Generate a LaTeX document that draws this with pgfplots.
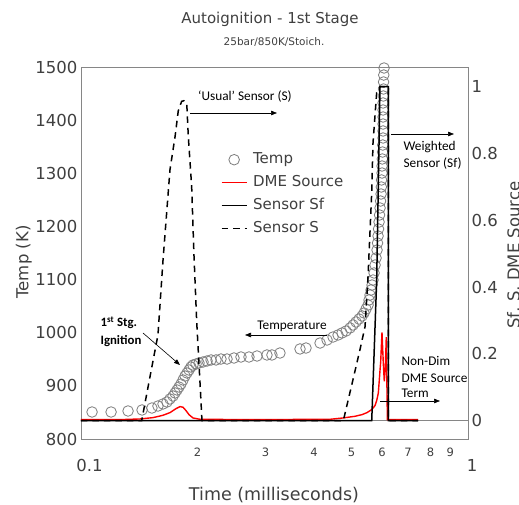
\documentclass[border=0pt]{standalone}
\usepackage{fontspec}
\setmainfont{DejaVu Sans}
\newfontfamily\calfont{Carlito}
\usepackage{pgfplots}
\usepackage{pgfplotstable}
\pgfplotsset{compat=1.18}
\usetikzlibrary{arrows.meta}
\definecolor{axgray}{RGB}{134,134,134}
\definecolor{txt}{RGB}{64,64,64}
\definecolor{circ}{RGB}{125,125,125}

% temperature (K) vs time
\pgfplotstableread{
t T
0.1068 850.8
0.1196 850.8
0.1323 852.7
0.1438 854.6
0.1525 858.3
0.1581 862.1
0.1629 865.9
0.1668 869.6
0.1698 875.3
0.1729 880.9
0.1750 886.6
0.1771 892.2
0.1792 897.8
0.1813 903.5
0.1835 911.0
0.1857 918.5
0.1879 924.2
0.1902 929.8
0.1924 935.5
0.1947 939.2
0.1983 941.1
0.2018 943.0
0.2067 944.9
0.2117 946.8
0.2168 948.7
0.2233 948.7
0.2300 950.5
0.2384 950.5
0.2485 952.4
0.2591 954.3
0.2717 954.3
0.2850 956.2
0.3024 958.1
0.3115 958.1
0.3267 961.8
0.3681 969.4
0.3815 971.2
0.4147 980.6
0.4323 986.3
0.4480 991.9
0.4616 995.7
0.4727 999.5
0.4841 1003.2
0.4957 1008.9
0.5046 1014.5
0.5137 1020.2
0.5230 1025.8
0.5324 1031.5
0.5388 1037.1
0.5452 1044.6
0.5518 1052.1
0.5551 1061.6
0.5584 1071.0
0.5617 1080.4
0.5651 1089.8
0.5684 1099.2
0.5718 1112.4
0.5753 1127.4
0.5787 1140.6
0.5821 1155.6
0.5838 1168.8
0.5856 1182.0
0.5873 1195.2
0.5891 1208.3
0.5909 1221.5
0.5926 1234.7
0.5944 1247.8
0.5962 1261.0
0.5972 1274.2
0.5979 1287.4
0.5997 1300.5
0.5997 1313.7
0.6008 1326.9
0.6015 1340.0
0.6022 1353.2
0.6033 1366.4
0.6033 1379.6
0.6033 1392.7
0.6033 1405.9
0.6033 1419.1
0.6033 1432.3
0.6044 1445.4
0.6051 1458.6
0.6051 1471.8
0.6058 1484.9
0.6069 1498.1
0.6069 1509.4
}\temptable

\begin{document}
\begin{tikzpicture}[x=1pt,y=1pt]
\fill[white] (0,0) rectangle (519,505);
\path[use as bounding box] (0,0) rectangle (519,505);

\begin{axis}[at={(81pt,66pt)},anchor=south west,scale only axis,
  width=387pt,height=372pt,
  xmode=log,xmin=0.1,xmax=1,ymin=800,ymax=1500,
  axis line style={axgray,line width=0.9pt},
  major tick length=0pt,minor tick length=0pt,
  xtick={0.1,1},xticklabels={\hspace*{17pt}0.1,\hspace*{8pt}1},
  xticklabel style={font=\fontsize{16.5}{18}\selectfont,text=txt,
    anchor=center,yshift=-26pt},
  extra x ticks={0.2,0.3,0.4,0.5,0.6,0.7,0.8,0.9},
  extra x tick labels={2,3,4,5,6,7,8,9},
  extra x tick style={xticklabel style={font=\fontsize{11.5}{13}\selectfont,
    yshift=13pt}},
  ytick={800,900,1000,1100,1200,1300,1400,1500},
  yticklabels={800,900,1000,1100,1200,1300,1400,1500},
  yticklabel style={font=\fontsize{16.5}{18}\selectfont,text=txt}]
\addplot[only marks,mark=o,mark size=5.3pt,circ,mark options={line width=0.8pt}]
  table[x=t,y=T]{\temptable};
\end{axis}

\begin{axis}[at={(81pt,66pt)},anchor=south west,scale only axis,
  width=387pt,height=372pt,
  xmode=log,xmin=0.1,xmax=1,ymin=-0.055,ymax=1.059,
  axis x line=none,axis y line*=right,
  axis line style={axgray,line width=0.9pt},
  major tick length=0pt,minor tick length=0pt,
  ytick={0,0.2,0.4,0.6,0.8,1},yticklabels={0,0.2,0.4,0.6,0.8,1},
  yticklabel style={font=\fontsize{16.5}{18}\selectfont,text=txt},
  legend image code/.code={\draw[mark repeat=2,mark phase=2,#1]
    plot coordinates {(0pt,0pt) (12.5pt,0pt) (25pt,0pt)};},
  legend cell align=left,
  legend style={draw=none,fill=none,at={(0.361,0.658)},anchor=west,
    font=\fontsize{15}{17}\selectfont,text=txt,inner sep=0pt,
    row sep=8.6pt,column sep=5.7pt,
    nodes={inner sep=0pt,text height=11.4pt,text depth=3pt}}]
\addlegendimage{only marks,mark=o,mark size=5.3pt,circ,mark options={line width=0.8pt}}
\addlegendentry{Temp}
\addplot[axgray,line width=0.8pt,forget plot] coordinates {(0.1,0) (1,0)};
\addplot[red,line width=1.4pt] coordinates {
  (0.1,0.003) (0.1261,0.003) (0.1421,0.005) (0.1535,0.009) (0.1629,0.016)
  (0.1698,0.024) (0.1760,0.036) (0.1803,0.042) (0.1836,0.040) (0.1868,0.030)
  (0.1901,0.018) (0.1947,0.008) (0.2030,0.004) (0.2733,0.003) (0.4399,0.004)
  (0.4753,0.008) (0.5105,0.013) (0.5322,0.018) (0.5483,0.024) (0.5639,0.033)
  (0.5751,0.045) (0.5809,0.060) (0.5866,0.083) (0.5924,0.150) (0.5948,0.175)
  (0.5995,0.264) (0.6041,0.174) (0.6077,0.118) (0.6113,0.153) (0.6150,0.250)
  (0.6190,0.003) (0.7428,0.003)};
\addlegendentry{DME Source}
\addplot[black,line width=1.5pt] coordinates {
  (0.1,0) (0.5640,0) (0.5809,0.422) (0.5924,1.0) (0.6225,1.0) (0.6225,0)
  (0.7428,0)};
\addlegendentry{Sensor Sf}
\addplot[black,line width=1.5pt,dash pattern=on 6.5pt off 5pt] coordinates {
  (0.1,0) (0.1435,0) (0.1508,0.132) (0.1581,0.257) (0.1629,0.480)
  (0.1698,0.751) (0.1750,0.850) (0.1784,0.928) (0.1820,0.956) (0.1845,0.958)
  (0.1876,0.952) (0.1894,0.850) (0.1932,0.701) (0.1959,0.494) (0.1991,0.296)
  (0.2030,0.114) (0.2054,0) (0.4763,0) (0.5045,0.123) (0.5260,0.213)
  (0.5419,0.281) (0.5516,0.430) (0.5639,0.683) (0.5683,0.832) (0.5808,0.982)
  (0.5924,1.0) (0.6225,1.0) (0.6225,0) (0.7428,0)};
\addlegendentry{Sensor S}
\end{axis}

% titles and axis labels
\node[anchor=base,font=\fontsize{15}{17}\selectfont,text=txt] at (270,481)
  {Autoignition - 1st Stage};
\node[anchor=base,font=\fontsize{10.5}{12}\selectfont,text=txt] at (274,459)
  {25bar/850K/Stoich.};
\node[anchor=base,font=\fontsize{17.5}{19}\selectfont,text=txt] at (274,4)
  {Time (milliseconds)};
\node[anchor=base,rotate=90,font=\fontsize{16.5}{18}\selectfont,text=txt]
  at (28.3,243) {Temp (K)};
\node[anchor=base,rotate=90,font=\fontsize{16.5}{18}\selectfont,text=txt]
  at (519.5,250) {Sf, S, DME Source};

% annotations
\begin{scope}[font=\calfont\fontsize{13.3}{15}\selectfont,
  every path/.style={line width=0.6pt,-{Triangle[length=6pt,width=4.5pt]}}]
\node at (245,408) {‘Usual’ Sensor (S)};
\draw (190,392) -- (277,392);
\node[anchor=west] at (400,358) {Weighted};
\node[anchor=west] at (400,341) {Sensor (Sf)};
\draw (391,371) -- (454,371);
\node at (292,179) {Temperature};
\draw (327,170) -- (245,170);
\node[anchor=west,font=\calfont\bfseries\fontsize{12.8}{15}\selectfont]
  at (97,182) {1\textsuperscript{st} Stg.};
\node[anchor=west,font=\calfont\bfseries\fontsize{12.8}{15}\selectfont]
  at (97,164) {Ignition};
\draw (143,172) -- (180,140);
\node[anchor=west] at (398,144) {Non-Dim};
\node[anchor=west] at (398,127) {DME Source};
\node[anchor=west] at (398,112) {Term};
\draw (380,104) -- (440,104);
\end{scope}
\end{tikzpicture}
\end{document}
